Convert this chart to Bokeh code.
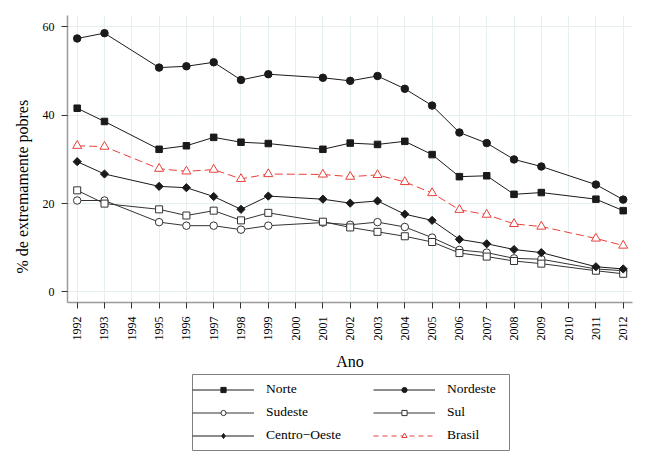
import math
from bokeh.plotting import figure
from bokeh.models import Legend, LegendItem, Title, FixedTicker, Range1d, Spacer
from bokeh.layouts import column, row
from bokeh.embed import file_html
from bokeh.resources import INLINE

years = [1992, 1993, 1995, 1996, 1997, 1998, 1999, 2001, 2002, 2003, 2004,
         2005, 2006, 2007, 2008, 2009, 2011, 2012]
norte = [41.6, 38.6, 32.3, 33.1, 35.0, 33.9, 33.6, 32.3, 33.7, 33.4, 34.1,
         31.1, 26.1, 26.3, 22.1, 22.5, 21.0, 18.4]
nordeste = [57.4, 58.6, 50.8, 51.1, 52.0, 48.0, 49.3, 48.5, 47.8, 48.9, 46.0,
            42.2, 36.1, 33.7, 30.0, 28.4, 24.3, 20.9]
sudeste = [20.7, 20.7, 15.8, 15.0, 15.0, 14.1, 15.0, 15.7, 15.2, 15.8, 14.7,
           12.3, 9.5, 8.9, 7.6, 7.4, 5.2, 4.8]
sul = [23.0, 20.0, 18.7, 17.3, 18.4, 16.2, 17.9, 15.9, 14.6, 13.6, 12.6,
       11.3, 8.8, 8.0, 7.0, 6.4, 4.8, 4.1]
centro_oeste = [29.5, 26.7, 23.9, 23.6, 21.6, 18.7, 21.7, 21.0, 20.1, 20.6, 17.6,
                16.2, 11.9, 10.9, 9.6, 8.9, 5.7, 5.2]
brasil = [33.1, 32.9, 27.9, 27.3, 27.7, 25.6, 26.7, 26.6, 26.1, 26.5, 24.9,
          22.4, 18.6, 17.5, 15.4, 14.8, 12.1, 10.5]

x_ticks = list(range(1992, 2013))
y_ticks = [0, 20, 40, 60]

FONT = "Liberation Serif"
BLACK = "#1a1a1a"
GRAY = "#333333"
RED = "#e8403a"

p = figure(frame_width=565, frame_height=287, output_backend="svg",
           toolbar_location=None,
           x_range=Range1d(1991.645, 2012.34), y_range=Range1d(-2.4, 62.6),
           min_border_left=67, min_border_right=18, min_border_top=15,
           min_border_bottom=71)
p.outline_line_color = None
p.background_fill_color = "white"
p.border_fill_color = "white"

for ax in (p.xaxis[0], p.yaxis[0]):
    ax.axis_line_color = "#9a9a9a"
    ax.axis_line_width = 1.5
    ax.major_tick_line_color = "#333333"
    ax.major_tick_in = 0
    ax.major_tick_out = 6
    ax.minor_tick_line_color = None
    ax.major_label_text_font = FONT
    ax.major_label_text_font_size = "12px"
    ax.major_label_text_color = "black"

p.xaxis.ticker = FixedTicker(ticks=x_ticks)
p.yaxis.ticker = FixedTicker(ticks=y_ticks)
p.xaxis.major_label_orientation = math.pi / 2
p.xaxis.major_label_standoff = 8
p.yaxis.major_label_standoff = 7
p.xaxis.axis_label = "Ano"
p.xaxis.axis_label_text_font = FONT
p.xaxis.axis_label_text_font_size = "16px"
p.xaxis.axis_label_text_font_style = "normal"
p.xaxis.axis_label_text_color = "black"
p.xaxis.axis_label_standoff = 9

p.xgrid.ticker = FixedTicker(ticks=x_ticks)
p.ygrid.ticker = FixedTicker(ticks=y_ticks)
p.grid.grid_line_color = "#e6eff0"
p.grid.grid_line_width = 1

ytitle = Title(text="% de extremamente pobres", align="left", offset=29,
               text_font=FONT, text_font_size="16px", text_font_style="normal",
               text_color="black", standoff=18)
p.add_layout(ytitle, "left")

# legend panel (separate small figure whose outline forms the legend box)
lg = figure(frame_width=317, frame_height=76, output_backend="svg",
            toolbar_location=None, x_axis_type=None, y_axis_type=None,
            x_range=Range1d(0, 1), y_range=Range1d(0, 1),
            min_border_left=1, min_border_right=1, min_border_top=1,
            min_border_bottom=1)
lg.outline_line_color = "#808080"
lg.outline_line_width = 1
lg.grid.visible = False
lg.background_fill_color = "white"
lg.border_fill_color = "white"

def series(vals, marker, size, fill, line_color=BLACK, dash="solid", angle=0.0,
           legend_marker=None, legend_size=4.5):
    p.line(years, vals, line_color=line_color, line_width=1, line_dash=dash)
    p.scatter(years, vals, marker=marker, size=size, fill_color=fill,
              line_color=line_color, line_width=1, angle=angle)
    # legend stand-ins (outside the legend figure's visible range)
    ll = lg.line(years, vals, line_color=line_color, line_width=1,
                 line_dash="5 4" if dash != "solid" else "solid")
    ls = lg.scatter(years, vals, marker=legend_marker or marker, size=legend_size,
                    fill_color=fill, line_color=line_color, line_width=1)
    return [ll, ls]

r_norte = series(norte, "square", 6.5, BLACK)
r_nordeste = series(nordeste, "circle", 7.5, BLACK)
r_sudeste = series(sudeste, "circle", 7.5, "white", line_color=GRAY)
r_sul = series(sul, "square", 7, "white", line_color=GRAY)
r_co = series(centro_oeste, "square", 5.8, BLACK, angle=math.pi / 4,
              legend_marker="diamond", legend_size=6)
r_br = series(brasil, "triangle", 9, "white", line_color=RED, dash="8 4",
              legend_size=5.5)

def make_legend(items, x):
    lgd = Legend(items=items, location=(x, 7))
    lgd.label_text_font = FONT
    lgd.label_text_font_size = "13.5px"
    lgd.label_text_color = "black"
    lgd.glyph_width = 62
    lgd.glyph_height = 13
    lgd.label_height = 16
    lgd.label_standoff = 12
    lgd.spacing = 7
    lgd.padding = 7
    lgd.margin = 0
    lgd.border_line_color = None
    lgd.background_fill_alpha = 0
    lg.add_layout(lgd, "center")

make_legend([
    LegendItem(label="Norte", renderers=r_norte),
    LegendItem(label="Sudeste", renderers=r_sudeste),
    LegendItem(label="Centro\u2212Oeste", renderers=r_co),
], 0)
make_legend([
    LegendItem(label="Nordeste", renderers=r_nordeste),
    LegendItem(label="Sul", renderers=r_sul),
    LegendItem(label="Brasil", renderers=r_br),
], 181)

page = column(p, row(Spacer(width=191, height=78), lg, spacing=0), spacing=0)

open("out.html", "w").write(file_html(page, INLINE))
